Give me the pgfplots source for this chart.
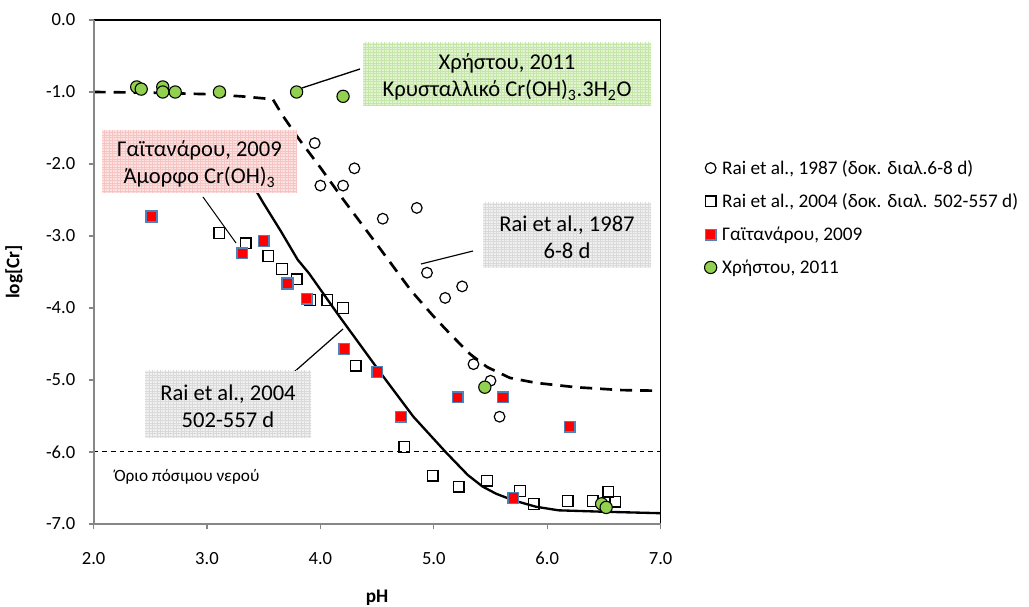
\documentclass[border=0pt]{standalone}
\usepackage{pgfplots}
\pgfplotsset{compat=1.18}
\usepackage{fontspec}
\setmainfont{Carlito}
\usetikzlibrary{patterns.meta}

\definecolor{chgreen}{HTML}{92D050}
\definecolor{markedge}{HTML}{4F81BD}
\definecolor{axgray}{HTML}{868686}
\definecolor{boxgreen}{RGB}{226,244,210}
\definecolor{gridgreen}{RGB}{196,230,166}
\definecolor{boxred}{RGB}{253,226,226}
\definecolor{gridred}{RGB}{247,196,196}
\definecolor{boxgray}{RGB}{240,240,240}
\definecolor{gridgray}{RGB}{218,218,218}

% fine square grid used to hatch the annotation boxes
\tikzdeclarepattern{
  name=finegrid,
  type=uncolored,
  bounding box={(-0.1bp,-0.1bp) and (2.1bp,2.1bp)},
  tile size={(2bp,2bp)},
  code={\draw[line width=0.35bp] (0,0) -- (2bp,0) (0,0) -- (0,2bp);}
}

\begin{document}
\begin{tikzpicture}
\useasboundingbox (0,0) rectangle (771.75bp,455.25bp);

\begin{axis}[
  at={(70.2bp,62.25bp)}, anchor=south west,
  width=425.25bp, height=378bp, scale only axis,
  xmin=2, xmax=7, ymin=-7, ymax=0,
  xtick={2,3,4,5,6,7}, ytick={-7,-6,-5,-4,-3,-2,-1,0},
  tick pos=left, tick align=outside,
  major tick length=3.75bp,
  tick style={axgray, line width=1bp},
  axis line style={draw=none},
  tick label style={font=\fontsize{14}{16}\selectfont},
  xticklabel style={yshift=-14bp},
  yticklabel style={xshift=-6.5bp},
  /pgf/number format/.cd, fixed, fixed zerofill, precision=1, assume math mode=true,
  /pgfplots/.cd,
  xlabel={pH}, ylabel={log[Cr]},
  label style={font=\fontsize{14.5}{16}\selectfont\bfseries},
  xlabel style={at={(axis description cs:0.5,-0.147)}, anchor=center},
  ylabel style={at={(axis description cs:-0.1404,0.5)}, anchor=center},
  legend style={at={(1.077,0.728)}, anchor=north west, draw=none, fill=none,
    font=\fontsize{14.5}{17}\selectfont, row sep=9bp, inner sep=0pt,
    /tikz/every odd column/.append style={column sep=2bp}},
  legend cell align=left,
  clip=false,
]

% Rai et al. 1987 model curve
\addplot[forget plot, black, line width=2bp, dash pattern=on 9bp off 6bp] coordinates {
  (2.0,-1.00) (2.5,-1.01) (3.0,-1.03) (3.3,-1.06) (3.58,-1.10) (3.66,-1.31)
  (3.8,-1.63) (4.0,-2.05) (4.2,-2.49) (4.5,-3.12) (4.8,-3.76) (5.0,-4.12)
  (5.15,-4.37) (5.32,-4.64) (5.47,-4.82) (5.67,-4.97) (5.9,-5.04) (6.25,-5.10)
  (6.65,-5.14) (7.0,-5.15)};

% Rai et al. 2004 model curve
\addplot[forget plot, black, line width=1.75bp] coordinates {
  (3.35,-2.15) (3.5,-2.55) (3.65,-2.93) (3.8,-3.33) (3.9,-3.52) (4.16,-4.10)
  (4.53,-4.90) (4.82,-5.51) (5.11,-6.01) (5.3,-6.32) (5.43,-6.48) (5.55,-6.58)
  (5.70,-6.67) (5.9,-6.76) (6.1,-6.81) (6.5,-6.83) (7.0,-6.85)};

% drinking water limit
\addplot[forget plot, black, line width=0.75bp, dash pattern=on 3.5bp off 3bp] coordinates {(2,-6) (7,-6)};

% Rai et al., 1987
\addplot[only marks, mark=o, mark size=4bp, mark options={draw=black, fill=white, line width=0.9bp}] coordinates {
  (3.95,-1.71) (4.30,-2.06) (4.00,-2.30) (4.20,-2.30) (4.55,-2.76) (4.85,-2.61)
  (4.94,-3.51) (5.10,-3.86) (5.25,-3.70) (5.35,-4.78) (5.50,-5.01) (5.58,-5.51)};
\addlegendentry{Rai et al., 1987 (δοκ. διαλ.6-8 d)}

% Rai et al., 2004
\addplot[only marks, mark=square, mark size=4bp, mark options={draw=black, fill=white, line width=1bp}] coordinates {
  (3.11,-2.96) (3.34,-3.10) (3.54,-3.28) (3.66,-3.46) (3.79,-3.60) (3.91,-3.89)
  (4.06,-3.89) (4.20,-4.00) (4.31,-4.80) (4.74,-5.93) (4.99,-6.33) (5.22,-6.48)
  (5.47,-6.40) (5.76,-6.54) (5.88,-6.72) (6.18,-6.68) (6.40,-6.68) (6.54,-6.55)
  (6.60,-6.69)};
\addlegendentry{Rai et al., 2004 (δοκ. διαλ. 502-557 d)}

% Gaitanarou, 2009
\addplot[only marks, mark=square*, mark size=4bp, mark options={draw=markedge, fill=red, line width=1.1bp}] coordinates {
  (2.51,-2.73) (3.31,-3.24) (3.50,-3.07) (3.71,-3.66) (3.88,-3.87) (4.21,-4.57)
  (4.50,-4.89) (4.71,-5.51) (5.21,-5.24) (5.61,-5.24) (6.20,-5.65) (5.70,-6.64)};
\addlegendentry{Γαϊτανάρου, 2009}

% Christou, 2011
\addplot[only marks, mark=*, mark size=4.6bp, mark options={draw=black, fill=chgreen, line width=0.8bp}] coordinates {
  (2.38,-0.93) (2.42,-0.96) (2.61,-0.93) (2.61,-1.00) (2.72,-1.00) (3.11,-1.00)
  (3.79,-1.00) (4.20,-1.06) (5.45,-5.10) (6.48,-6.72) (6.52,-6.77)};
\addlegendentry{Χρήστου, 2011}

% plot area frame
\draw[black, line width=1bp] (rel axis cs:0,1) -- (rel axis cs:1,1) -- (rel axis cs:1,0);
\draw[axgray, line width=1.5bp] (rel axis cs:0,1) -- (rel axis cs:0,0) -- (rel axis cs:1,0);
\end{axis}

% annotations (pixel-style coordinates, origin top left)
\begin{scope}[x=0.75bp, y=-0.75bp, yshift=455.25bp]
  \draw[line width=1bp] (360,69) -- (302,88);
  \draw[line width=0.75bp] (203,197) -- (236,243);
  \draw[line width=0.9bp] (473,251) -- (421,264);
  \draw[line width=0.9bp] (293,373) -- (343,329);

  \fill[boxgreen] (363,43) rectangle (651,106);
  \fill[pattern=finegrid, pattern color=gridgreen] (363,43) rectangle (651,106);
  \node[align=center, font=\fontsize{17}{20.5}\selectfont] at (507,77)
    {Χρήστου, 2011\\Κρυσταλλικό Cr(OH)\textsubscript{3}.3H\textsubscript{2}O};

  \fill[boxred] (102,130) rectangle (297,193);
  \fill[pattern=finegrid, pattern color=gridred] (102,130) rectangle (297,193);
  \node[align=center, font=\fontsize{17}{20.5}\selectfont] at (199.5,164)
    {Γαϊτανάρου, 2009\\Άμορφο Cr(OH)\textsubscript{3}};

  \fill[boxgray] (483,203) rectangle (651,268);
  \fill[pattern=finegrid, pattern color=gridgray] (483,203) rectangle (651,268);
  \node[align=center, font=\fontsize{17}{20.5}\selectfont] at (567,237)
    {Rai et al., 1987\\6-8 d};

  \fill[boxgray] (145,371) rectangle (311,438);
  \fill[pattern=finegrid, pattern color=gridgray] (145,371) rectangle (311,438);
  \node[align=center, font=\fontsize{17}{20.5}\selectfont] at (228,406)
    {Rai et al., 2004\\502-557 d};

  \node[anchor=base west, font=\fontsize{13}{15}\selectfont, inner sep=0pt] at (114,482)
    {Όριο πόσιμου νερού};
\end{scope}
\end{tikzpicture}
\end{document}
